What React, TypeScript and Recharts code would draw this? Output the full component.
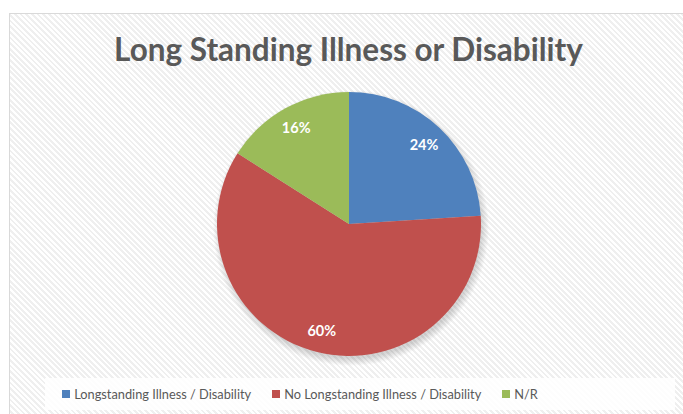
import React from 'react';
import { PieChart, Pie, Cell, Legend } from 'recharts';

const categories = ['Longstanding Illness / Disability', 'No Longstanding Illness / Disability', 'N/R'];
const values = [24, 60, 16];
const colors = ['#4F81BD', '#C0504D', '#9BBB59'];
const title = 'Long Standing Illness or Disability';

const data = categories.map((name, i) => ({ name, value: values[i] }));

const RADIAN = Math.PI / 180;

const renderLabel = (props: any) => {
  const { cx, cy, midAngle, outerRadius, percent } = props;
  const r = outerRadius * 0.83;
  const x = cx + r * Math.cos(-midAngle * RADIAN);
  const y = cy + r * Math.sin(-midAngle * RADIAN);
  return (
    <text x={x} y={y} fill="#FFFFFF" textAnchor="middle" dominantBaseline="central"
      style={{ fontFamily: 'Lato, sans-serif', fontWeight: 700, fontSize: 14.5 }}>
      {`${Math.round(percent * 100)}%`}
    </text>
  );
};

const LegendContent = () => (
  <div style={{ display: 'flex', justifyContent: 'center', alignItems: 'center', fontFamily: 'Lato, sans-serif', fontSize: 12.8, color: '#595959' }}>
    {categories.map((c, i) => (
      <div key={c} style={{ display: 'flex', alignItems: 'center', marginRight: i < categories.length - 1 ? 21 : 0 }}>
        <span style={{ display: 'inline-block', width: 8, height: 8, background: colors[i], marginRight: 4 }} />
        <span>{c}</span>
      </div>
    ))}
  </div>
);

export default function App() {
  return (
    <div style={{ position: 'fixed', left: 0, top: 0, width: 683, height: 414, background: '#FFFFFF', overflow: 'hidden' }}>
      <div style={{
        position: 'absolute', left: 9, top: 13, width: 690, height: 420,
        border: '1px solid #D9D9D9', boxSizing: 'border-box',
        backgroundImage: 'radial-gradient(circle at 341px 214px, rgba(0,0,0,0.16) 130px, rgba(0,0,0,0) 138px), repeating-linear-gradient(45deg, #FFFFFF 0px, #FFFFFF 2px, #EFEFEF 2px, #EFEFEF 4px)',
      }} />
      <div style={{ position: 'absolute', left: 45, top: 378, width: 630, height: 32, background: 'rgba(255,255,255,0.85)' }} />
      <div style={{
        position: 'absolute', left: 0, top: 29, width: 697, textAlign: 'center',
        fontFamily: 'Lato, sans-serif', fontWeight: 700, fontSize: 31.5, color: '#595959', lineHeight: '40px',
      }}>{title}</div>
      <div style={{ position: 'absolute', left: 0, top: 0 }}>
        <PieChart width={683} height={414} margin={{ top: 0, right: 0, bottom: 0, left: 0 }}>
          <Pie data={data} dataKey="value" nameKey="name" cx={349} cy={224} outerRadius={132}
            startAngle={90} endAngle={-270} stroke="none" label={renderLabel} labelLine={false}
            isAnimationActive={false}>
            {data.map((d, i) => <Cell key={d.name} fill={colors[i]} />)}
          </Pie>
          <Legend content={<LegendContent />} wrapperStyle={{ position: 'absolute', left: 0, top: 386, width: 600 }} />
        </PieChart>
      </div>
    </div>
  );
}
